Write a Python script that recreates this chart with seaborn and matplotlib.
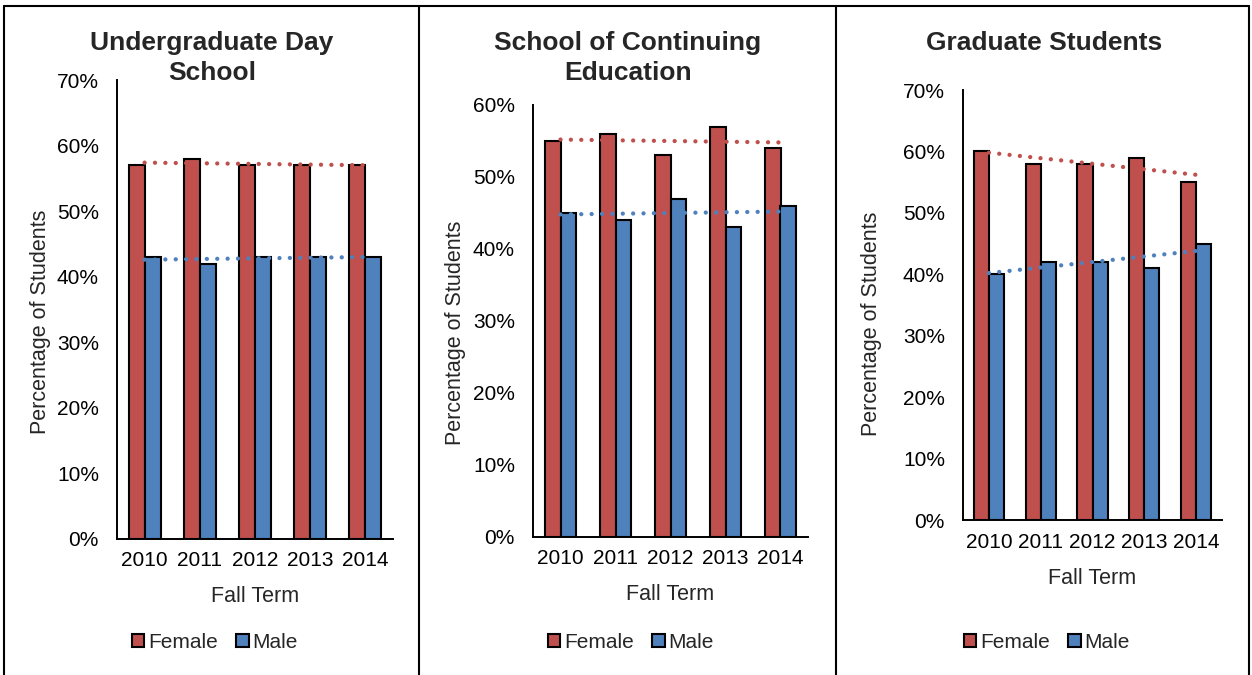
import numpy as np
import pandas as pd
import seaborn as sns
import matplotlib.pyplot as plt
from matplotlib.lines import Line2D
from matplotlib.ticker import PercentFormatter

years = ['2010', '2011', '2012', '2013', '2014']
titles = [['Undergraduate Day', 'School'],
          ['School of Continuing', 'Education'],
          ['Graduate Students']]
female = [[57, 58, 57, 57, 57],
          [55, 56, 53, 57, 54],
          [60, 58, 58, 59, 55]]
male = [[43, 42, 43, 43, 43],
        [45, 44, 47, 43, 46],
        [40, 42, 42, 41, 45]]
ymax = [70, 60, 70]

RED = '#C0504D'
BLUE = '#4F81BD'

sns.set_style('white')
plt.rcParams['font.family'] = ['Liberation Sans', 'DejaVu Sans']

W, H = 1252, 675
fig = plt.figure(figsize=(W / 100, H / 100), dpi=100)

# axes boxes in pixels: left, right, top, bottom
boxes = [(117, 393, 80, 539), (533, 808, 105, 537), (963, 1222, 90, 520)]
title_x = [212, 628, 1044]
ylabel_x = [40, 456, 871]
ylabel_y = [322, 333, 324]
legend_x = [215, 631, 1047]

for i in range(3):
    l, r, t, b = boxes[i]
    ax = fig.add_axes([l / W, 1 - b / H, (r - l) / W, (b - t) / H])
    df = pd.DataFrame({'Year': years * 2,
                       'Pct': female[i] + male[i],
                       'Gender': ['Female'] * 5 + ['Male'] * 5})
    sns.barplot(data=df, x='Year', y='Pct', hue='Gender', palette=[RED, BLUE],
                width=0.58, saturation=1, edgecolor='black', linewidth=1.5, ax=ax)

    # linear trendlines
    xs = np.arange(len(years))
    for vals, c in [(female[i], RED), (male[i], BLUE)]:
        k, m = np.polyfit(xs, vals, 1)
        ax.plot(xs, k * xs + m, color=c, lw=3.1, linestyle=(0, (0.01, 2.4)),
                dash_capstyle='round', zorder=5)

    ax.set_xlim(-0.5, 4.5)
    ax.set_ylim(0, ymax[i])
    ax.set_yticks(range(0, ymax[i] + 1, 10))
    ax.yaxis.set_major_formatter(PercentFormatter(100, decimals=0))
    ax.tick_params(length=0, labelsize=15, colors='black')
    ax.tick_params(axis='y', pad=13)
    ax.tick_params(axis='x', pad=9)
    for s in ['top', 'right']:
        ax.spines[s].set_visible(False)
    for s in ['left', 'bottom']:
        ax.spines[s].set_color('black')
        ax.spines[s].set_linewidth(1.4)

    ax.set_xlabel('Fall Term', fontsize=15.5, va='center')
    ax.xaxis.set_label_coords(0.5, -58 / (b - t))
    ax.set_ylabel('Percentage of Students', fontsize=15.5, va='center')
    ax.yaxis.set_label_coords((ylabel_x[i] - l) / (r - l), (b - ylabel_y[i]) / (b - t))

    handles, labels = ax.get_legend_handles_labels()
    ax.legend(handles[:2], labels[:2], loc='center', ncol=2, frameon=False,
              bbox_to_anchor=(legend_x[i] / W, 1 - 642 / H), bbox_transform=fig.transFigure,
              fontsize=15, handlelength=0.6, handleheight=0.6, handletextpad=0.2,
              columnspacing=0.85, borderpad=0)

    # title, one text per line
    for j, line in enumerate(titles[i]):
        fig.text(title_x[i] / W, 1 - (43 + 30 * j) / H, line, ha='center', va='center',
                 fontsize=19, fontweight='bold')

# frame lines around and between the panels
for x0, y0, x1, y1 in [(4, 6, 1249, 6), (4, 6, 4, 675), (1249, 6, 1249, 675),
                       (418.5, 6, 418.5, 675), (836.5, 6, 836.5, 675)]:
    fig.add_artist(Line2D([x0 / W, x1 / W], [1 - y0 / H, 1 - y1 / H],
                          transform=fig.transFigure, color='black', lw=1.5))

fig.savefig('out.png', dpi=100)
